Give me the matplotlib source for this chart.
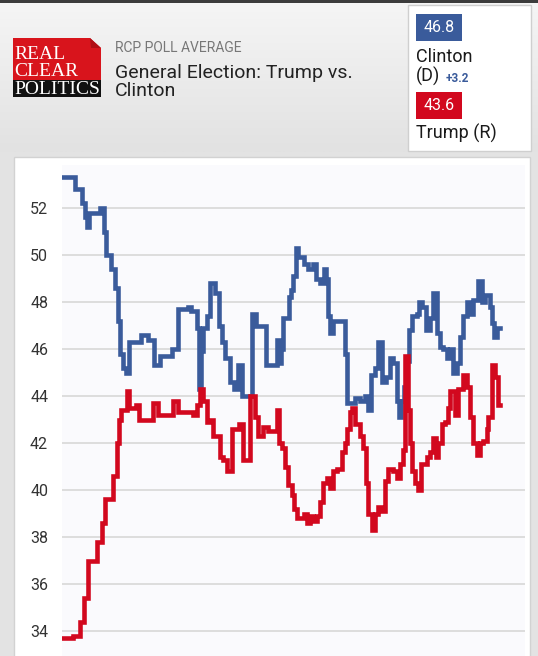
import numpy as np
import matplotlib.pyplot as plt
from matplotlib.patches import Rectangle, Polygon
from matplotlib.colors import LinearSegmentedColormap

W, H = 538, 656

# poll average, step starts (days from first reading) and values
clinton_day = [0, 12, 19, 22, 24, 26, 37, 41, 43, 48, 52, 55, 57, 60, 63, 66, 78, 85, 91, 97,
               109, 115, 125, 128, 134, 136, 138, 140, 144, 147, 152, 156, 159, 162, 167, 171,
               175, 179, 189, 193, 203, 214, 216, 218, 220, 226, 228, 230, 233, 235, 241, 245,
               250, 253, 257, 261, 263, 265, 267, 270, 282, 284, 292, 297, 302, 305, 308, 312,
               315, 319, 323, 327, 330, 334, 336, 338, 341, 344, 346, 349, 354, 356, 359, 363,
               367, 370, 374, 377, 380, 384, 387, 390, 394, 397, 400, 404, 407, 410, 415, 419,
               422, 427, 429, 431, 434, 437]
clinton_pct = [53.3, 52.8, 52.2, 51.6, 51.2, 51.8, 52.0, 51.0, 50.0, 49.4, 48.6, 47.2, 45.8, 45.2,
               45.0, 46.3, 46.6, 46.4, 45.3, 45.7, 46.0, 47.7, 47.8, 47.6, 46.9, 44.3, 45.9, 46.9,
               47.4, 48.8, 48.4, 47.0, 46.3, 45.6, 44.6, 44.3, 45.3, 44.0, 47.5, 47.0, 45.3, 46.4,
               45.4, 46.0, 47.3, 48.2, 48.5, 49.1, 50.3, 49.9, 49.6, 49.4, 49.6, 49.0, 48.8, 49.4,
               49.0, 47.4, 46.7, 47.2, 45.8, 43.7, 43.9, 43.8, 44.0, 43.4, 44.9, 45.2, 46.3, 44.6,
               44.8, 45.6, 45.4, 43.8, 43.1, 43.8, 44.4, 45.5, 46.8, 47.4, 47.5, 48.0, 47.8, 46.8,
               47.3, 48.4, 46.7, 46.1, 46.0, 45.6, 46.0, 45.0, 45.4, 46.5, 47.4, 48.0, 47.5, 48.1,
               48.9, 48.0, 48.3, 47.8, 47.1, 46.5, 46.9, 46.9]

trump_day = [0, 10, 17, 21, 25, 34, 39, 42, 50, 54, 56, 58, 64, 66, 73, 76, 90, 95, 110, 115,
             130, 134, 137, 140, 144, 147, 150, 157, 160, 164, 169, 176, 180, 187, 192, 195, 200,
             205, 214, 216, 219, 222, 225, 229, 231, 234, 241, 244, 247, 250, 254, 257, 260, 264,
             267, 270, 274, 279, 282, 284, 287, 289, 292, 297, 300, 303, 305, 309, 312, 315, 318,
             322, 325, 330, 334, 337, 340, 342, 345, 347, 349, 352, 355, 358, 364, 367, 370, 373,
             375, 379, 382, 385, 387, 392, 395, 400, 404, 407, 410, 414, 417, 420, 424, 425, 429,
             432, 435, 437]
trump_pct = [33.7, 33.8, 34.4, 35.4, 37.0, 37.8, 38.6, 39.6, 40.6, 42.0, 43.0, 43.4, 44.2, 43.5,
             43.6, 43.0, 43.7, 43.2, 43.8, 43.3, 43.2, 43.6, 44.3, 43.8, 42.9, 43.0, 42.3, 41.4,
             41.3, 40.8, 42.6, 42.8, 41.3, 44.0, 43.1, 42.3, 42.7, 42.5, 43.4, 42.0, 41.8, 41.0,
             40.2, 39.8, 39.2, 38.8, 39.0, 38.6, 38.9, 38.7, 38.9, 39.5, 40.3, 40.5, 40.1, 40.8,
             40.9, 41.6, 42.0, 42.6, 43.3, 43.5, 42.8, 42.3, 41.8, 40.3, 39.0, 38.3, 39.0, 39.3,
             39.1, 40.4, 40.9, 40.8, 40.5, 41.1, 41.7, 45.7, 43.4, 42.0, 40.8, 40.3, 40.0, 41.1,
             41.4, 41.6, 42.2, 41.4, 42.0, 42.8, 42.9, 43.5, 44.2, 43.2, 44.3, 44.9, 44.4, 43.1,
             42.0, 41.5, 42.0, 42.1, 42.6, 43.1, 45.3, 44.8, 43.6, 43.6]

y_ticks = [34, 36, 38, 40, 42, 44, 46, 48, 50, 52]
clinton_last = "46.8"
trump_last = "43.6"
spread = "+3.2"

BLUE = "#3a5b9b"
RED = "#d2081e"


def fx(px):
    return px / W


def fy(py):
    return 1 - py / H


plt.rcParams['font.family'] = ['Roboto', 'DejaVu Sans']

fig = plt.figure(figsize=(W / 100, H / 100), dpi=100)
fig.patch.set_facecolor('#e3e3e3')

# header background
bg = fig.add_axes([0, fy(152), 1, fy(3) - fy(152)])
grad = LinearSegmentedColormap.from_list('hdr', ['#f5f5f5', '#e2e2e2'])
bg.imshow(np.linspace(0, 1, 100)[:, None], cmap=grad, aspect='auto')
bg.axis('off')

fig.patches.append(Rectangle((0, fy(3)), 1, 3 / H, transform=fig.transFigure,
                             facecolor='#3c3c3c', edgecolor='none'))

# logo
fig.patches.append(Polygon([(fx(13), fy(80)), (fx(13), fy(38)), (fx(90), fy(38)),
                            (fx(101), fy(48)), (fx(101), fy(80))],
                           closed=True, transform=fig.transFigure,
                           facecolor='#d8141c', edgecolor='none'))
fig.patches.append(Polygon([(fx(90), fy(38)), (fx(91), fy(48)), (fx(101), fy(48))],
                           closed=True, transform=fig.transFigure,
                           facecolor='#b00e15', edgecolor='none'))
fig.patches.append(Rectangle((fx(13), fy(97)), fx(101) - fx(13), 17 / H,
                             transform=fig.transFigure, facecolor='#111111', edgecolor='none'))
# va='baseline' on multi-line text pins the last line
fig.text(fx(14), fy(94), "REAL\nCLEAR\nPOLITICS", family='Liberation Serif', fontsize=14,
         color='white', va='baseline', linespacing=1.04)

fig.text(fx(115), fy(52), "RCP POLL AVERAGE", color='#777777', fontsize=10, va='baseline')
fig.text(fx(115), fy(78), "General Election: Trump vs.", color='#222222', fontsize=14, va='baseline')
fig.text(fx(115), fy(96), "Clinton", color='#222222', fontsize=14, va='baseline')

# legend box
fig.patches.append(Rectangle((fx(408), fy(151)), fx(531) - fx(408), 146 / H,
                             transform=fig.transFigure, facecolor='white', edgecolor='#cfcfcf', lw=1))
fig.patches.append(Rectangle((fx(416), fy(41)), fx(462) - fx(416), 27 / H,
                             transform=fig.transFigure, facecolor=BLUE, edgecolor='none'))
fig.text(fx(439), fy(27.5), clinton_last, color='white', fontsize=11.5, ha='center', va='center')
fig.text(fx(416), fy(62), "Clinton", color='#1a1a1a', fontsize=13, va='baseline')
fig.text(fx(416), fy(82), "(D)", color='#1a1a1a', fontsize=13, va='baseline')
fig.text(fx(446), fy(81.5), spread, color=BLUE, fontsize=8.5, fontweight='bold', va='baseline')
fig.patches.append(Rectangle((fx(416), fy(119)), fx(462) - fx(416), 27 / H,
                             transform=fig.transFigure, facecolor=RED, edgecolor='none'))
fig.text(fx(439), fy(105.5), trump_last, color='white', fontsize=11.5, ha='center', va='center')
fig.text(fx(416), fy(139), "Trump (R)", color='#1a1a1a', fontsize=13, va='baseline')

# chart panel
fig.patches.append(Rectangle((fx(14), -0.01), fx(530) - fx(14), fy(157) + 0.01,
                             transform=fig.transFigure, facecolor='white', edgecolor='#d2d2d2',
                             lw=1, zorder=0.5))

ax = fig.add_axes([fx(62), 0, fx(525) - fx(62), fy(165)])
ax.set_zorder(3)
ax.set_facecolor('#fafafd')
ax.step(clinton_day, clinton_pct, where='post', color=BLUE, lw=3.3, solid_joinstyle='miter', zorder=3)
ax.step(trump_day, trump_pct, where='post', color=RED, lw=3.3, solid_joinstyle='miter', zorder=4)
ax.set_xlim(-1, 462)
ax.set_ylim(32.94, 53.83)
ax.set_yticks(y_ticks)
ax.set_xticks([])
ax.tick_params(axis='y', length=0, pad=10, labelsize=11.5, labelcolor='#333333')
ax.grid(axis='y', color='#dadada', lw=1.3)
ax.set_axisbelow(True)
for s in ax.spines.values():
    s.set_visible(False)

fig.savefig('out.png', dpi=100, facecolor=fig.get_facecolor())
